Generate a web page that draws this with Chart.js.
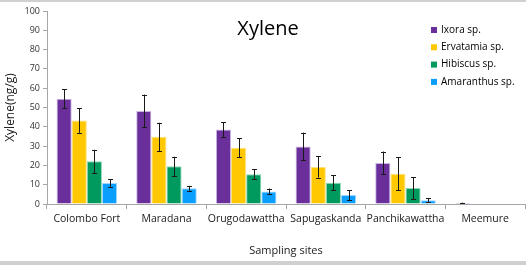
<!DOCTYPE html>
<html>
<head>
<meta charset="utf-8">
<script src="https://cdn.jsdelivr.net/npm/chart.js@4"></script>
<style>
  html, body { margin: 0; padding: 0; background: #fff; overflow: hidden; }
  #wrap { position: relative; width: 526px; height: 265px; }
  #wrap::before { content: ''; position: absolute; left: 0; top: 0; width: 526px; height: 2px; background: #d0d0d0; }
  #wrap::after { content: ''; position: absolute; left: 0; top: 261px; width: 526px; height: 4px; background: #d0d0d0; }
  canvas { display: block; }
</style>
</head>
<body>
<div id="wrap"><canvas id="graficoXileno" width="526" height="265"></canvas></div>
<script>
// Dados
const locais = ['Colombo Fort', 'Maradana', 'Orugodawattha', 'Sapugaskanda', 'Panchikawattha', 'Meemure'];
const especies = ['Ixora sp.', 'Ervatamia sp.', 'Hibiscus sp.', 'Amaranthus sp.'];

const ixora = [54.5, 48.2, 38.6, 29.8, 21.3, 0.5];
const ervatamia = [43.2, 34.8, 29.1, 19.2, 15.7, 0];
const hibiscus = [22.1, 19.5, 15.4, 11.0, 8.3, 0];
const amaranthus = [10.9, 8.1, 6.5, 4.6, 2.0, 0];

// desvio (+/-) das barras de erro
const erroIxora = [5.0, 8.5, 3.8, 7.2, 5.9, 0.2];
const erroErvatamia = [6.3, 7.3, 5.0, 5.5, 8.5, 0];
const erroHibiscus = [6.0, 5.0, 2.6, 4.0, 5.7, 0];
const erroAmaranthus = [2.0, 1.3, 1.5, 2.5, 1.0, 0];

const yTicks = [0, 10, 20, 30, 40, 50, 60, 70, 80, 90, 100];

const cores = ['#6a2f9a', '#ffc800', '#009a5e', '#0a9fff'];
const bordas = ['#c9b6e4', '#ffe07a', '#8fd9b4', '#9fd6ff'];

const FONTE = '"Open Sans", "Noto Sans", sans-serif';

// Barras de erro desenhadas pelas escalas do próprio gráfico
const pluginErro = {
    id: 'barrasErro',
    afterDatasetsDraw(chart) {
        const ctx = chart.ctx;
        const y = chart.scales.y;
        ctx.save();
        chart.data.datasets.forEach((ds, i) => {
            const meta = chart.getDatasetMeta(i);
            meta.data.forEach((bar, j) => {
                const e = ds.erro[j];
                if (!e) return;
                const v = ds.data[j];
                const yHi = y.getPixelForValue(v + e);
                const yLo = y.getPixelForValue(Math.max(0, v - e));
                const x = Math.round(bar.x) + 0.5;
                ctx.strokeStyle = '#1a1a1a';
                ctx.lineWidth = 1;
                ctx.beginPath();
                ctx.moveTo(x, yHi); ctx.lineTo(x, yLo);
                ctx.moveTo(x - 2.5, Math.round(yHi) + 0.5); ctx.lineTo(x + 2.5, Math.round(yHi) + 0.5);
                ctx.moveTo(x - 2.5, Math.round(yLo) + 0.5); ctx.lineTo(x + 2.5, Math.round(yLo) + 0.5);
                ctx.stroke();
            });
        });
        ctx.restore();
    }
};

// Título e legenda sobre a área do gráfico
const pluginTituloLegenda = {
    id: 'tituloLegenda',
    afterDraw(chart) {
        const ctx = chart.ctx;
        ctx.save();
        ctx.fillStyle = '#000';
        ctx.font = `20px ${FONTE}`;
        ctx.textAlign = 'center';
        ctx.textBaseline = 'middle';
        ctx.fillText('Xylene', 268, 29);

        ctx.font = `10px ${FONTE}`;
        ctx.textAlign = 'left';
        chart.data.datasets.forEach((ds, i) => {
            const yy = 30 + i * 17.3;
            ctx.fillStyle = ds.backgroundColor;
            ctx.fillRect(431, yy - 3, 6, 6);
            ctx.fillStyle = '#000';
            ctx.fillText(ds.label, 441, yy);
        });
        ctx.restore();
    }
};

const series = [ixora, ervatamia, hibiscus, amaranthus];
const erros = [erroIxora, erroErvatamia, erroHibiscus, erroAmaranthus];

const ctx = document.getElementById('graficoXileno').getContext('2d');
new Chart(ctx, {
    type: 'bar',
    data: {
        labels: locais,
        datasets: especies.map((nome, i) => ({
            label: nome,
            data: series[i],
            erro: erros[i],
            backgroundColor: cores[i],
            borderColor: bordas[i],
            borderWidth: 1,
            categoryPercentage: 0.76,
            barPercentage: 1.0
        }))
    },
    options: {
        responsive: false,
        animation: false,
        devicePixelRatio: 1,
        layout: { padding: { top: 11, right: 1, left: 0, bottom: 0 } },
        plugins: {
            legend: { display: false },
            title: { display: false },
            tooltip: { enabled: false }
        },
        scales: {
            x: {
                offset: true,
                grid: { offset: true, drawOnChartArea: false, drawTicks: true, tickLength: 5, color: '#a6a6a6' },
                border: { color: '#a6a6a6' },
                ticks: { color: '#1a1a1a', font: { family: FONTE, size: 10.5 }, padding: 4, maxRotation: 0, autoSkip: false },
                title: { display: true, text: 'Sampling sites', color: '#1a1a1a', font: { family: FONTE, size: 11 }, padding: { top: 4, bottom: 8 } },
                afterFit(scale) { scale.height = 61; }
            },
            y: {
                min: 0,
                max: 100,
                afterBuildTicks(scale) { scale.ticks = yTicks.map(v => ({ value: v })); },
                grid: { drawOnChartArea: false, drawTicks: true, tickLength: 4, color: '#a6a6a6' },
                border: { color: '#a6a6a6' },
                ticks: { color: '#333', font: { family: FONTE, size: 9 }, padding: 3 },
                title: { display: true, text: 'Xylene(ng/g)', color: '#1a1a1a', font: { family: FONTE, size: 12 }, padding: { top: 3, bottom: 2 } },
                afterFit(scale) { scale.width = 47; }
            }
        }
    },
    plugins: [pluginErro, pluginTituloLegenda]
});
</script>
</body>
</html>
